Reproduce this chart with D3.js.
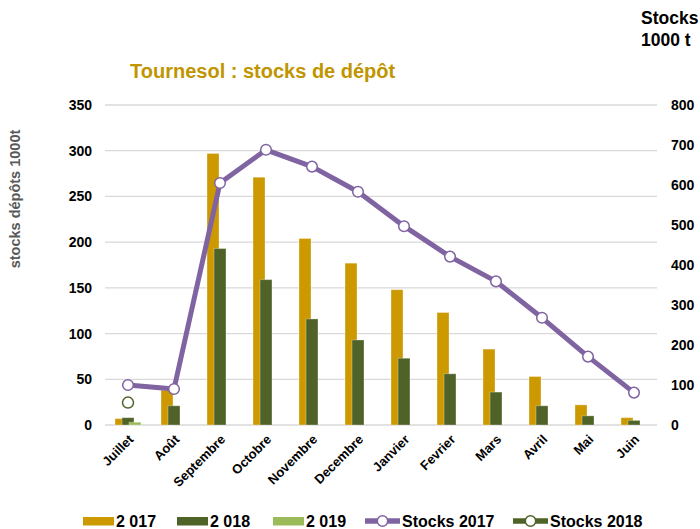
<!DOCTYPE html>
<html><head><meta charset="utf-8">
<script src="https://cdn.jsdelivr.net/npm/d3@7"></script>
<style>
html,body{margin:0;padding:0;background:#fff;}
svg{display:block;font-family:"Liberation Sans",Arial,sans-serif;font-weight:bold;}
</style></head>
<body>
<svg id="chart" width="700" height="529"></svg>
<script>
const categories = ["Juillet","Août","Septembre","Octobre","Novembre","Decembre","Janvier","Fevrier","Mars","Avril","Mai","Juin"];
const depot2017 = [7, 38, 297, 271, 204, 177, 148, 123, 83, 53, 22, 8];
const depot2018 = [8, 21, 193, 159, 116, 93, 73, 56, 36, 21, 10, 5];
const depot2019 = [3, null, null, null, null, null, null, null, null, null, null, null];
const stocks2017 = [100, 90, 605, 688, 646, 583, 497, 421, 359, 268, 171, 81];
const stocks2018 = [56, null, null, null, null, null, null, null, null, null, null, null];
const leftTicks = [0, 50, 100, 150, 200, 250, 300, 350];
const rightTicks = [0, 100, 200, 300, 400, 500, 600, 700, 800];

const colors = {d2017:"#CC9900", d2018:"#4F6228", d2019:"#9BBB59", s2017:"#8064A2", s2018:"#4F6228"};

const svg = d3.select("#chart");
const plotL = 105, plotR = 657, plotT = 105, plotB = 425;

const x = d3.scaleBand().domain(categories).range([plotL, plotR]).padding(0);
const yL = d3.scaleLinear().domain([0, 350]).range([plotB, plotT]);
const yR = d3.scaleLinear().domain([0, 800]).range([plotB, plotT]);
const bw = x.bandwidth();
const cx = c => x(c) + bw / 2;

// gridlines
svg.append("g").selectAll("line").data(leftTicks).join("line")
  .attr("x1", plotL).attr("x2", plotR)
  .attr("y1", d => yL(d)).attr("y2", d => yL(d))
  .attr("stroke", "#D9D9D9").attr("stroke-width", 1.3);

// left axis
const axL = svg.append("g").attr("transform", `translate(${plotL},0)`)
  .call(d3.axisLeft(yL).tickValues(leftTicks).tickSize(0).tickPadding(13));
axL.select(".domain").remove();
axL.selectAll("text").attr("font-size", 14).attr("font-weight", "bold").attr("fill", "#000")
  .attr("font-family", "Liberation Sans, Arial, sans-serif");

// right axis
const axR = svg.append("g").attr("transform", `translate(${plotR},0)`)
  .call(d3.axisRight(yR).tickValues(rightTicks).tickSize(0).tickPadding(14));
axR.select(".domain").remove();
axR.selectAll("text").attr("font-size", 14).attr("font-weight", "bold").attr("fill", "#000")
  .attr("font-family", "Liberation Sans, Arial, sans-serif");

// bars
const barW = bw * 0.26;
const step = bw * 0.152;
const series = [[depot2017, colors.d2017], [depot2018, colors.d2018], [depot2019, colors.d2019]];
series.forEach(([vals, col], i) => {
  svg.append("g").selectAll("rect")
    .data(categories.map((c, j) => ({c, v: vals[j]})).filter(d => d.v != null))
    .join("rect")
    .attr("x", d => cx(d.c) + (i - 1) * step - barW / 2)
    .attr("width", barW)
    .attr("y", d => yL(d.v))
    .attr("height", d => yL(0) - yL(d.v))
    .attr("fill", col)
    .attr("stroke", "rgba(255,255,255,0.3)").attr("stroke-width", 1);
});

// stocks 2017 line
const pts17 = categories.map((c, j) => ({c, v: stocks2017[j]}));
svg.append("path").datum(pts17)
  .attr("d", d3.line().x(d => cx(d.c)).y(d => yR(d.v)))
  .attr("fill", "none").attr("stroke", colors.s2017).attr("stroke-width", 5)
  .attr("stroke-linejoin", "round");
svg.append("g").selectAll("circle").data(pts17).join("circle")
  .attr("cx", d => cx(d.c)).attr("cy", d => yR(d.v)).attr("r", 5.3)
  .attr("fill", "#fff").attr("stroke", colors.s2017).attr("stroke-width", 1.5);

// stocks 2018
const pts18 = categories.map((c, j) => ({c, v: stocks2018[j]})).filter(d => d.v != null);
svg.append("g").selectAll("circle").data(pts18).join("circle")
  .attr("cx", d => cx(d.c)).attr("cy", d => yR(d.v)).attr("r", 5.5)
  .attr("fill", "#fff").attr("stroke", colors.s2018).attr("stroke-width", 1.5);

// x labels
svg.append("g").selectAll("text").data(categories).join("text")
  .attr("transform", d => `translate(${cx(d) + 3},${plotB + 12}) rotate(-45)`)
  .attr("text-anchor", "end").attr("dy", "0.35em")
  .attr("font-size", 13).attr("fill", "#000")
  .text(d => d);

// title
svg.append("text").attr("x", 130).attr("y", 78)
  .attr("font-size", 20).attr("fill", "#BF9500").text("Tournesol : stocks de dépôt");

// right unit label
svg.append("text").attr("x", 641).attr("y", 24).attr("font-size", 17.5).attr("fill", "#000").text("Stocks");
svg.append("text").attr("x", 641).attr("y", 46).attr("font-size", 17.5).attr("fill", "#000").text("1000 t");

// left axis title
svg.append("text").attr("transform", "translate(20,199) rotate(-90)")
  .attr("text-anchor", "middle").attr("font-size", 14.5).attr("fill", "#595959")
  .text("stocks dépôts 1000t");

// legend
const legY = 521;
const leg = svg.append("g").attr("font-size", 16).attr("fill", "#000");
const rectItems = [
  {x: 83, label: "2 017", col: colors.d2017},
  {x: 177, label: "2 018", col: colors.d2018},
  {x: 273, label: "2 019", col: colors.d2019}
];
rectItems.forEach(it => {
  leg.append("rect").attr("x", it.x).attr("y", legY - 4).attr("width", 31).attr("height", 8.5).attr("fill", it.col);
  leg.append("text").attr("x", it.x + 33).attr("y", legY + 6).text(it.label);
});
const lineItems = [
  {x: 365, label: "Stocks 2017", col: colors.s2017},
  {x: 513, label: "Stocks 2018", col: colors.s2018}
];
lineItems.forEach(it => {
  leg.append("line").attr("x1", it.x).attr("x2", it.x + 35).attr("y1", legY).attr("y2", legY)
    .attr("stroke", it.col).attr("stroke-width", 5.5);
  leg.append("circle").attr("cx", it.x + 17.5).attr("cy", legY).attr("r", 5.2)
    .attr("fill", "#fff").attr("stroke", it.col).attr("stroke-width", 1.5);
  leg.append("text").attr("x", it.x + 37).attr("y", legY + 6).text(it.label);
});
</script>
</body></html>
